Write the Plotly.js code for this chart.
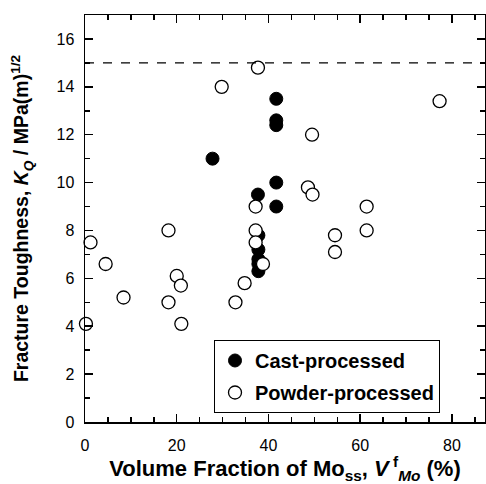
<!DOCTYPE html>
<html>
<head>
<meta charset="utf-8">
<script src="https://cdn.plot.ly/plotly-3.0.1.min.js"></script>
<style>html,body{margin:0;padding:0;background:#fff;}</style>
</head>
<body>
<div id="chart" style="width:486px;height:484px;"></div>
<script>
// Cast-processed (filled circles)
const castX = [27.8, 41.7, 41.7, 41.7, 41.7, 41.7, 37.7, 37.8, 37.8, 37.8, 37.8, 37.8];
const castY = [11.0, 13.5, 12.6, 12.4, 10.0, 9.0, 9.5, 7.8, 7.2, 6.8, 6.6, 6.3];
// Powder-processed (open circles)
const powderX = [0.2, 1.2, 4.5, 8.4, 18.2, 18.2, 20.0, 20.9, 21.0, 29.8, 32.8, 34.8, 37.2, 37.2, 37.2, 37.7, 38.8, 48.6, 49.6, 49.5, 54.5, 54.5, 61.4, 61.4, 77.3];
const powderY = [4.1, 7.5, 6.6, 5.2, 8.0, 5.0, 6.1, 5.7, 4.1, 14.0, 5.0, 5.8, 9.0, 8.0, 7.5, 14.8, 6.6, 9.8, 9.5, 12.0, 7.8, 7.1, 9.0, 8.0, 13.4];
const refLineY = 15;
const seriesNames = ["Cast-processed", "Powder-processed"];

const fontFam = "Liberation Sans, Arial, Helvetica, sans-serif";

const traces = [
  {
    x: castX, y: castY, type: "scatter", mode: "markers",
    name: seriesNames[0], legendgroup: "a",
    marker: {size: 13, color: "#000", line: {color: "#000", width: 1}},
    cliponaxis: false
  },
  {
    x: powderX, y: powderY, type: "scatter", mode: "markers",
    name: seriesNames[1], legendgroup: "b",
    marker: {size: 13, color: "#fff", line: {color: "#000", width: 1.3}},
    cliponaxis: false
  }
];

const layout = {
  width: 486, height: 484,
  margin: {l: 85, r: 1, t: 15, b: 62},
  paper_bgcolor: "#fff", plot_bgcolor: "#fff",
  font: {family: fontFam, color: "#000", size: 16},
  showlegend: true,
  legend: {
    x: 0.3225, y: 0.2015, xanchor: "left", yanchor: "top",
    bordercolor: "#000", borderwidth: 1, bgcolor: "#fff",
    font: {family: fontFam, size: 20, color: "#000", weight: "bold"},
    traceorder: "grouped", tracegroupgap: 3,
    entrywidth: 222, entrywidthmode: "pixels"
  },
  xaxis: {
    range: [0, 87.2], autorange: false,
    tickmode: "linear", tick0: 0, dtick: 20,
    ticks: "inside", ticklen: 8, tickwidth: 1.5, tickcolor: "#000",
    minor: {tickmode: "linear", tick0: 0, dtick: 5, ticks: "inside", ticklen: 5, tickwidth: 1.5, tickcolor: "#000"},
    showline: true, linecolor: "#000", linewidth: 1.5, mirror: "ticks",
    showgrid: false, zeroline: false,
    tickfont: {family: fontFam, size: 16, color: "#000"},
    ticklabelstandoff: 8,
    title: {text: "Volume Fraction of Mo<sub>ss</sub>, <i>V</i><sup> f</sup><sub><i>Mo</i></sub> (%)",
            font: {family: fontFam, size: 22, color: "#000", weight: "bold"}, standoff: 11}
  },
  yaxis: {
    range: [0, 17], autorange: false,
    tickmode: "linear", tick0: 0, dtick: 2,
    ticks: "inside", ticklen: 8, tickwidth: 1.5, tickcolor: "#000",
    minor: {tickmode: "linear", tick0: 0, dtick: 1, ticks: "inside", ticklen: 5, tickwidth: 1.5, tickcolor: "#000"},
    showline: true, linecolor: "#000", linewidth: 1.5, mirror: "ticks",
    showgrid: false, zeroline: false,
    tickfont: {family: fontFam, size: 16, color: "#000"},
    ticklabelstandoff: 6,
    title: {text: "Fracture Toughness, <i>K</i><sub><i>Q</i></sub> / MPa(m)<sup>1/2</sup>",
            font: {family: fontFam, size: 19.5, color: "#000", weight: "bold"}, standoff: 22}
  },
  shapes: [{
    type: "line", xref: "paper", x0: 0, x1: 1, yref: "y", y0: refLineY, y1: refLineY,
    line: {color: "#000", width: 1.2, dash: "dash"}
  }]
};

Plotly.newPlot("chart", traces, layout, {displayModeBar: false, staticPlot: true});
</script>
</body>
</html>
